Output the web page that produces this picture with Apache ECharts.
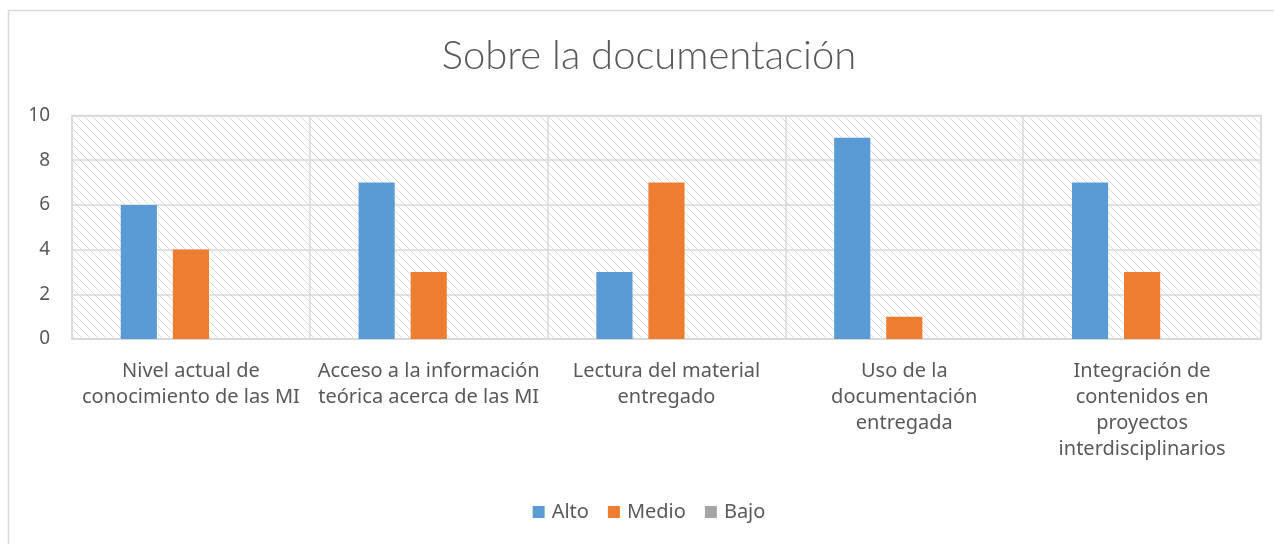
<!DOCTYPE html>
<html>
<head>
<meta charset="utf-8">
<title>Sobre la documentación</title>
<script src="https://cdn.jsdelivr.net/npm/echarts@6/dist/echarts.min.js"></script>
<style>
  html, body { margin: 0; padding: 0; background: #fff; overflow: hidden; }
  /* el lienzo es algo más ancho que la ventana: el centro del original queda en x=649 */
  #chart { width: 1298px; height: 544px; }
</style>
</head>
<body>
<div id="chart"></div>
<script>
// datos del gráfico
var categorias = [
  'Nivel actual de\nconocimiento de las MI',
  'Acceso a la información\nteórica acerca de las MI',
  'Lectura del material\nentregado',
  'Uso de la\ndocumentación\nentregada',
  'Integración de\ncontenidos en\nproyectos\ninterdisciplinarios'
];
var alto = [6, 7, 3, 9, 7];
var medio = [4, 3, 7, 1, 3];
var bajo = [0, 0, 0, 0, 0];

var FONT = '"Noto Sans", Lato, sans-serif';
var TITLE_FONT = 'Lato, "Noto Sans", sans-serif';
var TEXT = '#595959';
var LINE = '#d9d9d9';

// trama diagonal del área de trazado
function trama() {
  var c = document.createElement('canvas');
  c.width = 8; c.height = 8;
  var ctx = c.getContext('2d');
  ctx.fillStyle = '#ffffff';
  ctx.fillRect(0, 0, 8, 8);
  ctx.strokeStyle = '#dadada';
  ctx.lineWidth = 1;
  ctx.beginPath();
  ctx.moveTo(-2, -2); ctx.lineTo(10, 10);
  ctx.moveTo(-2, 6); ctx.lineTo(2, 10);
  ctx.moveTo(6, -2); ctx.lineTo(10, 2);
  ctx.stroke();
  return c;
}

var chart = echarts.init(document.getElementById('chart'));
var option = {
  animation: false,
  color: ['#5b9bd5', '#ed7d31', '#a5a5a5'],
  textStyle: { fontFamily: FONT, color: TEXT },
  graphic: [{
    type: 'rect',
    z: -10,
    shape: { x: 8.5, y: 10.5, width: 1300, height: 600 },
    style: { fill: 'none', stroke: LINE, lineWidth: 1.5 }
  }],
  title: {
    text: 'Sobre la documentación',
    left: 'center',
    top: 31,
    textStyle: { fontFamily: TITLE_FONT, fontSize: 40, fontWeight: 300, color: TEXT }
  },
  legend: {
    data: ['Alto', 'Medio', 'Bajo'],
    left: 'center',
    top: 497,
    icon: 'rect',
    itemWidth: 12,
    itemHeight: 12,
    itemGap: 19,
    textStyle: { fontFamily: FONT, fontSize: 20, color: TEXT, padding: [0, 0, 0, 2] }
  },
  grid: {
    left: 72,
    right: 37,
    top: 115.5,
    bottom: 205,
    show: true,
    borderColor: LINE,
    borderWidth: 1.5,
    backgroundColor: { image: trama(), repeat: 'repeat' }
  },
  xAxis: {
    type: 'category',
    data: categorias,
    axisLine: { show: true, lineStyle: { color: LINE, width: 1.5 } },
    axisTick: { show: false },
    splitLine: { show: true, interval: 0, lineStyle: { color: LINE, width: 1.5 } },
    axisLabel: {
      interval: 0,
      margin: 19,
      fontFamily: FONT,
      fontSize: 20,
      lineHeight: 26,
      color: TEXT,
      align: 'center'
    }
  },
  yAxis: {
    type: 'value',
    min: 0,
    max: 10,
    interval: 2,
    axisLine: { show: false },
    axisTick: { show: false },
    splitLine: { show: true, lineStyle: { color: LINE, width: 1.5 } },
    axisLabel: { margin: 22, fontFamily: FONT, fontSize: 19, color: TEXT }
  },
  series: [
    { name: 'Alto', type: 'bar', data: alto, barGap: '44%', barCategoryGap: '41%' },
    { name: 'Medio', type: 'bar', data: medio },
    { name: 'Bajo', type: 'bar', data: bajo }
  ]
};
chart.setOption(option);
</script>
</body>
</html>
